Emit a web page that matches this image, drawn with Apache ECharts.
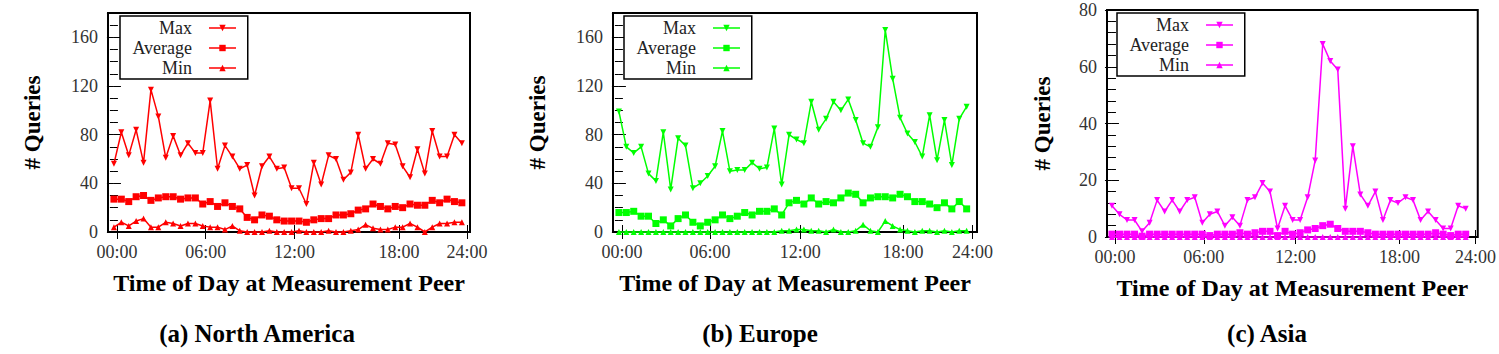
<!DOCTYPE html>
<html>
<head>
<meta charset="utf-8">
<script src="https://cdn.jsdelivr.net/npm/echarts@6/dist/echarts.min.js"></script>
<style>
  html, body { margin: 0; padding: 0; background: #fff; }
  #chart { width: 1499px; height: 354px; }
</style>
</head>
<body>
<div id="chart"></div>
<script>
// half-hour slots, 48 per day; x value = slot index
const tickLabels = ['00:00', '06:00', '12:00', '18:00', '24:00'];
const seriesNames = ['Max', 'Average', 'Min'];
const regions = ['(a) North America', '(b) Europe', '(c) Asia'];

const naMax = [56, 82, 63, 84, 57, 117, 95, 61, 79, 63, 73, 65, 65, 108, 52, 71, 62, 52, 55, 30, 54, 62, 52, 53,
  36, 36, 23, 57, 39, 63, 60, 43, 49, 80, 52, 60, 56, 73, 72, 54, 45, 68, 48, 83, 62, 62, 80, 73];
const naAvg = [27, 27, 25, 29, 30, 26, 28, 29, 29, 27, 28, 28, 23, 25, 21, 24, 21, 19, 12, 10, 14, 13, 10, 9,
  9, 9, 8, 10, 11, 11, 14, 14, 15, 18, 19, 23, 21, 19, 21, 20, 23, 22, 22, 26, 24, 27, 25, 24];
const naMin = [4, 8, 5, 9, 11, 4, 4, 8, 7, 5, 7, 7, 5, 4, 4, 2, 5, 1, 0, 0, 0, 1, 0, 0,
  0, 1, 0, 0, 0, 1, 0, 0, 1, 2, 6, 3, 2, 2, 4, 4, 7, 4, 0, 4, 7, 7, 8, 8];

const euMax = [99, 70, 65, 70, 48, 42, 82, 35, 77, 71, 36, 40, 46, 54, 83, 50, 51, 51, 57, 52, 53, 85, 39, 80,
  76, 73, 107, 84, 93, 107, 100, 109, 92, 73, 70, 86, 166, 126, 94, 81, 74, 62, 96, 59, 92, 55, 93, 103];
const euAvg = [16, 16, 17, 13, 13, 7, 10, 5, 11, 14, 8, 5, 8, 10, 14, 11, 13, 16, 14, 17, 17, 19, 14, 24,
  26, 23, 28, 23, 25, 24, 28, 32, 31, 24, 28, 29, 29, 28, 31, 29, 25, 25, 23, 20, 24, 19, 25, 19];
const euMin = [0, 0, 0, 0, 0, 0, 0, 0, 0, 0, 0, 0, 0, 0, 0, 0, 0, 0, 0, 0, 0, 0, 1, 1,
  2, 2, 1, 1, 0, 2, 0, 0, 1, 6, 1, 0, 9, 5, 2, 1, 0, 1, 1, 0, 1, 0, 1, 1];

const asMax = [11, 8, 6, 6, 2, 5, 13, 9, 13, 9, 13, 14, 5, 8, 9, 4, 7, 4, 13, 14, 19, 16, 3, 11,
  6, 6, 14, 27, 68, 62, 59, 10, 32, 15, 11, 16, 6, 13, 12, 14, 13, 6, 9, 6, 3, 3, 11, 10];
const asAvg = [1, 1, 1, 1, 0.3, 1, 1, 1, 1, 1, 1, 1, 1, 0.5, 1, 1, 1, 1.5, 1, 1.5, 2, 2, 0.5, 2,
  1, 1.5, 2.5, 3, 4, 4.5, 3, 2, 2, 2, 1.5, 1, 1, 1, 1, 1, 1, 1, 1, 1.5, 1, 0.5, 1, 1];
const asMin = [0, 0, 0, 0, 0, 0, 0, 0, 0, 0, 0, 0, 0, 0, 0, 0, 0, 0, 0, 0, 0, 0, 0, 0,
  0, 0, 0, 0, 0, 0, 0, 0, 0, 0, 0, 0, 0, 0, 0, 0, 0, 0, 0, 0, 0, 0, 0, 0];

const serif = 'Liberation Serif';

const panels = [
  { color: '#ff0000', data: [naMax, naAvg, naMin], yMax: 180, yStep: 40, minor: 4,
    grid: { left: 108, top: 13, width: 362, height: 219 }, xRange: [-0.8, 48.1],
    ticks: [0.4, 12.4, 24.4, 38.5, 47.7], legendAt: [120, 16], nameGap: 64, titleX: 252 },
  { color: '#00ff00', data: [euMax, euAvg, euMin], yMax: 180, yStep: 40, minor: 4,
    grid: { left: 613, top: 13, width: 364, height: 219 }, xRange: [-0.8, 48.4],
    ticks: [0.4, 12.3, 24.5, 38.4, 47.8], legendAt: [624, 16], nameGap: 64, titleX: 755 },
  { color: '#ff00ff', data: [asMax, asAvg, asMin], yMax: 80, yStep: 20, minor: 5,
    grid: { left: 1107, top: 10, width: 375, height: 227 }, xRange: [-0.66, 48.6],
    ticks: [0.4, 12.2, 24.4, 38.2, 48.3], legendAt: [1117, 13], nameGap: 53, titleX: 1262 }
];

const markers = [
  { symbol: 'triangle', symbolRotate: 180, symbolSize: 6 },
  { symbol: 'rect', symbolRotate: 0, symbolSize: 7 },
  { symbol: 'triangle', symbolRotate: 0, symbolSize: 6 }
];

const tickStyle = { color: '#000', width: 1 };
const labelStyle = { fontFamily: serif, fontSize: 18, color: '#333' };
const boldName = { fontFamily: serif, fontWeight: 'bold', fontSize: 23, color: '#000' };

const grid = [], xAxis = [], yAxis = [], series = [], legend = [], title = [];

panels.forEach((p, i) => {
  grid.push(Object.assign({ show: true, borderColor: '#000', borderWidth: 2 }, p.grid));

  // bottom axis with labels, top axis only mirrors the ticks
  ['bottom', 'top'].forEach(pos => {
    xAxis.push({
      type: 'value', gridIndex: i, position: pos, min: p.xRange[0], max: p.xRange[1],
      axisLine: { show: false }, splitLine: { show: false },
      axisTick: { show: true, inside: true, length: 7, customValues: p.ticks, lineStyle: tickStyle },
      axisLabel: pos === 'bottom'
        ? Object.assign({ customValues: p.ticks, margin: 11,
            formatter: v => tickLabels[p.ticks.indexOf(v)] }, labelStyle)
        : { show: false },
      name: pos === 'bottom' ? 'Time of Day at Measurement Peer' : '',
      nameLocation: 'middle', nameGap: 39,
      nameTextStyle: Object.assign({}, boldName, { fontSize: 24 })
    });
  });

  ['left', 'right'].forEach(pos => {
    yAxis.push({
      type: 'value', gridIndex: i, position: pos, min: 0, max: p.yMax, interval: p.yStep,
      axisLine: { show: false }, splitLine: { show: false },
      axisTick: { show: true, inside: true, length: 7, lineStyle: tickStyle },
      minorTick: { show: true, splitNumber: p.minor, length: 4, lineStyle: tickStyle },
      axisLabel: pos === 'left'
        ? Object.assign({ margin: 10, showMaxLabel: p.yMax % p.yStep === 0 }, labelStyle)
        : { show: false },
      name: pos === 'left' ? '# Queries' : '',
      nameLocation: 'middle', nameGap: p.nameGap, nameTextStyle: boldName
    });
  });

  p.data.forEach((vals, k) => {
    series.push(Object.assign({
      name: seriesNames[k], type: 'line', xAxisIndex: i * 2, yAxisIndex: i * 2,
      data: vals.map((v, j) => [j, v]),
      showAllSymbol: true, clip: false,
      lineStyle: { color: p.color, width: 1.5 },
      itemStyle: { color: p.color },
      emphasis: { disabled: true }
    }, markers[k]));
  });

  legend.push({
    orient: 'vertical', left: p.legendAt[0], top: p.legendAt[1], align: 'right',
    itemWidth: 27, itemHeight: 8, itemGap: 2, padding: [3, 11, 2, 8],
    borderColor: '#000', borderWidth: 1.5, borderRadius: 0, backgroundColor: '#fff',
    selectedMode: false,
    data: seriesNames.map(n => ({ name: n, itemStyle: { color: p.color }, lineStyle: { color: p.color, width: 1.5 } })),
    formatter: n => '{t|' + n + '}',
    textStyle: {
      fontFamily: serif, fontSize: 18, color: '#222',
      rich: { t: { width: 64, align: 'right', padding: [0, 12, 0, 0], fontFamily: serif, fontSize: 18, lineHeight: 17, color: '#222' } }
    }
  });

  title.push({
    text: regions[i], left: p.titleX, top: 316, textAlign: 'center',
    textStyle: { fontFamily: serif, fontWeight: 'bold', fontSize: 25, color: '#000' }
  });
});

const chart = echarts.init(document.getElementById('chart'), null, { renderer: 'svg' });
chart.setOption({
  animation: false,
  backgroundColor: '#fff',
  title, grid, xAxis, yAxis, legend, series
});
</script>
</body>
</html>
